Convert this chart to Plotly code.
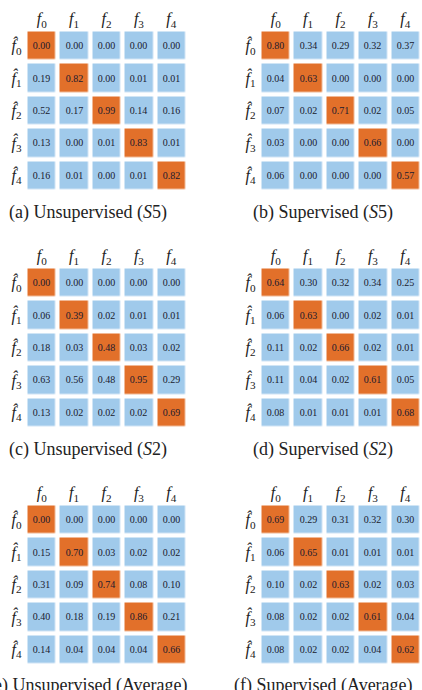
import plotly.graph_objects as go

cols = ["f0", "f1", "f2", "f3", "f4"]
rows = ["fh0", "fh1", "fh2", "fh3", "fh4"]
col_labels = ["<i>f</i><sub>0</sub>", "<i>f</i><sub>1</sub>", "<i>f</i><sub>2</sub>", "<i>f</i><sub>3</sub>", "<i>f</i><sub>4</sub>"]
row_labels = ["<i>f̂</i><sub>0</sub>", "<i>f̂</i><sub>1</sub>", "<i>f̂</i><sub>2</sub>", "<i>f̂</i><sub>3</sub>", "<i>f̂</i><sub>4</sub>"]

unsup_s5 = [
    [0.00, 0.00, 0.00, 0.00, 0.00],
    [0.19, 0.82, 0.00, 0.01, 0.01],
    [0.52, 0.17, 0.99, 0.14, 0.16],
    [0.13, 0.00, 0.01, 0.83, 0.01],
    [0.16, 0.01, 0.00, 0.01, 0.82],
]
sup_s5 = [
    [0.80, 0.34, 0.29, 0.32, 0.37],
    [0.04, 0.63, 0.00, 0.00, 0.00],
    [0.07, 0.02, 0.71, 0.02, 0.05],
    [0.03, 0.00, 0.00, 0.66, 0.00],
    [0.06, 0.00, 0.00, 0.00, 0.57],
]
unsup_s2 = [
    [0.00, 0.00, 0.00, 0.00, 0.00],
    [0.06, 0.39, 0.02, 0.01, 0.01],
    [0.18, 0.03, 0.48, 0.03, 0.02],
    [0.63, 0.56, 0.48, 0.95, 0.29],
    [0.13, 0.02, 0.02, 0.02, 0.69],
]
sup_s2 = [
    [0.64, 0.30, 0.32, 0.34, 0.25],
    [0.06, 0.63, 0.00, 0.02, 0.01],
    [0.11, 0.02, 0.66, 0.02, 0.01],
    [0.11, 0.04, 0.02, 0.61, 0.05],
    [0.08, 0.01, 0.01, 0.01, 0.68],
]
unsup_avg = [
    [0.00, 0.00, 0.00, 0.00, 0.00],
    [0.15, 0.70, 0.03, 0.02, 0.02],
    [0.31, 0.09, 0.74, 0.08, 0.10],
    [0.40, 0.18, 0.19, 0.86, 0.21],
    [0.14, 0.04, 0.04, 0.04, 0.66],
]
sup_avg = [
    [0.69, 0.29, 0.31, 0.32, 0.30],
    [0.06, 0.65, 0.01, 0.01, 0.01],
    [0.10, 0.02, 0.63, 0.02, 0.03],
    [0.08, 0.02, 0.02, 0.61, 0.04],
    [0.08, 0.02, 0.02, 0.04, 0.62],
]
captions = [
    "(a) Unsupervised (<i>S</i>5)",
    "(b) Supervised (<i>S</i>5)",
    "(c) Unsupervised (<i>S</i>2)",
    "(d) Supervised (<i>S</i>2)",
    "(e) Unsupervised (Average)",
    "(f) Supervised (Average)",
]
panels = [unsup_s5, sup_s5, unsup_s2, sup_s2, unsup_avg, sup_avg]

W, H = 422, 690
BLUE = "#A0CAEB"
ORANGE = "#E2702A"
FONT = "'Liberation Serif', 'DejaVu Serif', serif"

# pixel layout (left, top) of each panel's axis domain
x_left = [25.5, 259.5]
y_top = [29.5, 266.5, 503.5]
size = 162
cap_y = [212, 449, 685]
cap_x = [88, 323]

fig = go.Figure()
for i, (data, cap) in enumerate(zip(panels, captions)):
    r, c = divmod(i, 2)
    n = i + 1
    xa = "x" if n == 1 else f"x{n}"
    ya = "y" if n == 1 else f"y{n}"
    mask = [[1 if a == b else 0 for b in range(5)] for a in range(5)]
    text = [[f"{v:.2f}" for v in row] for row in data]
    fig.add_trace(go.Heatmap(
        z=mask, x=cols, y=rows, text=text, texttemplate="%{text}",
        textfont=dict(family=FONT, size=10, color="#1a1a2e"),
        colorscale=[[0, BLUE], [1, ORANGE]], zmin=0, zmax=1,
        showscale=False, xgap=4.5, ygap=4.5, xaxis=xa, yaxis=ya,
        hoverinfo="skip",
    ))
    x0 = x_left[c] / W
    x1 = (x_left[c] + size) / W
    y1 = 1 - y_top[r] / H
    y0 = 1 - (y_top[r] + size) / H
    fig.layout[f"xaxis{'' if n == 1 else n}"] = dict(
        domain=[x0, x1], anchor=ya, side="top", tickvals=cols, ticktext=col_labels,
        showgrid=False, zeroline=False, showline=False, ticks="",
        tickfont=dict(family=FONT, size=16, color="#222"), ticklabelstandoff=1,
        fixedrange=True,
    )
    fig.layout[f"yaxis{'' if n == 1 else n}"] = dict(
        domain=[y0, y1], anchor=xa, autorange="reversed", tickvals=rows, ticktext=row_labels,
        showgrid=False, zeroline=False, showline=False, ticks="",
        tickfont=dict(family=FONT, size=16, color="#222"), ticklabelstandoff=3,
        fixedrange=True,
    )
    fig.add_annotation(
        text=cap, x=cap_x[c] / W, y=1 - cap_y[r] / H, xref="paper", yref="paper",
        xanchor="center", yanchor="middle", showarrow=False,
        font=dict(family=FONT, size=18, color="#222"),
    )

fig.update_layout(
    width=W, height=H, margin=dict(l=0, r=0, t=0, b=0),
    paper_bgcolor="white", plot_bgcolor="white", showlegend=False,
)
fig.write_html("out.html")
